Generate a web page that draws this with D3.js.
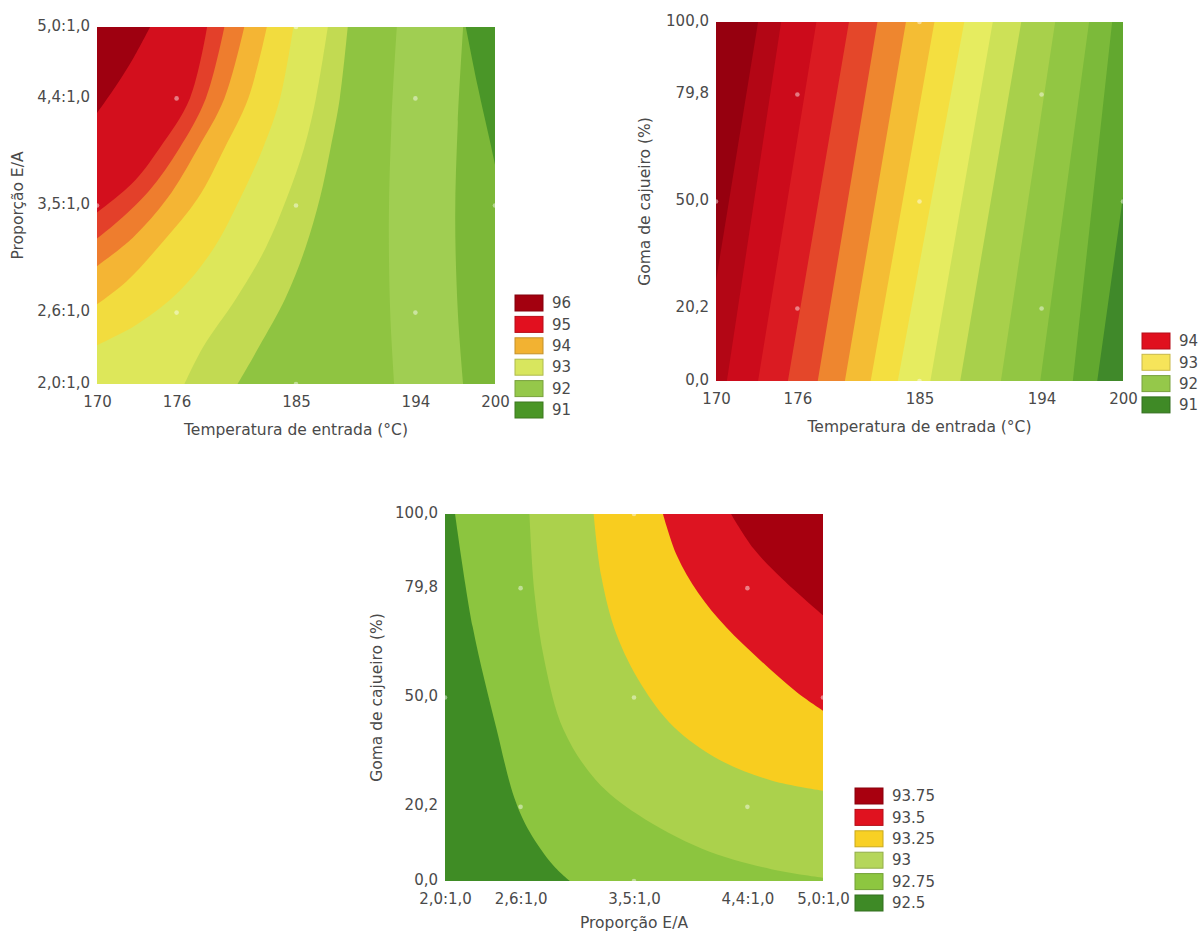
<!DOCTYPE html>
<html>
<head>
<meta charset="utf-8">
<script src="https://cdn.jsdelivr.net/npm/d3@7"></script>
<style>
  body { margin: 0; background: #fff; }
  text { font-family: "DejaVu Sans", sans-serif; fill: #4a4a4a; }
</style>
</head>
<body>
<script>
// tick values
var tempTicks = [170, 176, 185, 194, 200];
var ratioTicks = [2.0, 2.6, 3.5, 4.4, 5.0];
var gumTicks = [0, 20.2, 50, 79.8, 100];

// design points (central composite)
var ccdTemp = [176, 194, 176, 194, 170, 200, 185, 185, 185];
var ccdRatio = [2.6, 2.6, 4.4, 4.4, 3.5, 3.5, 2.0, 5.0, 3.5];
var ccdGum = [20.2, 20.2, 79.8, 79.8, 50, 50, 0, 100, 50];
var ccdRatioB = [2.6, 4.4, 2.6, 4.4, 2.0, 5.0, 3.5, 3.5, 3.5];

// plot 1: band edges, [temperature, ratio], left to right
var p1Bounds = [
  [[174.0, 5.0], [172.8, 4.75], [171.4, 4.5], [169.5, 4.2]],
  [[178.3, 5.0], [177.0, 4.4], [174.7, 3.98], [172.6, 3.68], [169.5, 3.4]],
  [[179.6, 5.0], [178.2, 4.4], [176.2, 3.98], [173.9, 3.62], [171.3, 3.34], [169.5, 3.18]],
  [[181.1, 5.0], [179.6, 4.4], [177.6, 3.98], [175.3, 3.56], [172.7, 3.23], [169.5, 2.95]],
  [[182.8, 5.0], [181.4, 4.4], [179.6, 3.98], [177.6, 3.56], [175.0, 3.2], [172.2, 2.86], [169.5, 2.63]],
  [[184.8, 5.0], [183.8, 4.4], [182.5, 3.98], [180.8, 3.56], [178.8, 3.14], [176.2, 2.78], [173.0, 2.5], [169.5, 2.3]],
  [[187.4, 5.0], [186.5, 4.4], [185.6, 3.98], [184.3, 3.56], [182.7, 3.14], [180.5, 2.72], [178.0, 2.31], [176.6, 2.0]],
  [[188.9, 5.0], [188.3, 4.4], [187.6, 3.98], [186.8, 3.56], [185.7, 3.14], [184.2, 2.72], [182.2, 2.31], [180.6, 2.0]],
  [[192.6, 5.0], [192.2, 4.2], [192.0, 3.4], [192.1, 2.6], [192.4, 2.0]],
  [[197.6, 5.0], [197.2, 4.2], [197.0, 3.4], [197.2, 2.6], [197.6, 2.0]],
  [[197.8, 5.0], [198.7, 4.5], [199.7, 4.0], [201.0, 3.3]]
];
var p1Colors = ["#9e0010", "#d30f1d", "#e3402a", "#ee7d2e", "#f4b534", "#f2dc3e",
  "#dde75a", "#c2da52", "#8fc441", "#a0ce52", "#7cb838", "#4a9628"];
var p1LegendLabels = ["96", "95", "94", "93", "92", "91"];
var p1LegendColors = ["#a3000f", "#e2101f", "#f2b232", "#d8e65e", "#95c84a", "#4a9626"];

// plot 2: straight band edges, temperature at gum 100 % and at gum 0 %
var p2EdgeTop = [173.1, 174.8, 177.4, 179.8, 181.9, 184.0, 186.1, 188.3, 190.4, 192.5, 195.0, 197.5, 199.2, 201.8];
var p2EdgeBottom = [168.8, 170.8, 173.1, 175.3, 177.5, 179.5, 181.4, 183.4, 185.8, 188.0, 191.0, 193.9, 196.3, 198.1];
var p2Colors = ["#96000f", "#b30615", "#cc0b1b", "#da1b22", "#e4472a", "#ee862f", "#f4bd34", "#f4df40",
  "#e6ec60", "#cde157", "#a8d04b", "#92c643", "#7cba3a", "#62a82f", "#40892a"];
var p2LegendLabels = ["94", "93", "92", "91"];
var p2LegendColors = ["#e0101e", "#f6e45a", "#95c84a", "#3f8a26"];

// plot 3: band edges, [ratio, gum], bottom-left to top-right
var p3Bounds = [
  [[2.08, 100], [2.22, 69.2], [2.41, 41.3], [2.55, 22.7], [2.67, 13.5], [2.86, 4.2], [2.99, 0]],
  [[2.67, 100], [2.71, 78.5], [2.79, 59.9], [2.94, 41.3], [3.20, 27.4], [3.53, 18.1], [4.04, 8.8], [4.59, 3.2], [5.0, 0.9]],
  [[3.18, 100], [3.24, 83.1], [3.36, 67.3], [3.56, 53.4], [3.81, 42.2], [4.18, 33.0], [4.59, 27.4], [5.0, 24.6]],
  [[3.73, 100], [3.84, 88.7], [4.01, 78.5], [4.23, 69.2], [4.51, 59.9], [4.79, 51.5], [5.0, 46.4]],
  [[4.27, 100], [4.45, 90.5], [4.68, 82.2], [5.0, 72.4]]
];
var p3Colors = ["#3f8c25", "#8cc53f", "#abd14c", "#f8cd1f", "#dd1421", "#a6000f"];
var p3LegendLabels = ["93.75", "93.5", "93.25", "93", "92.75", "92.5"];
var p3LegendColors = ["#a8000f", "#e0121f", "#f8d024", "#b5d65a", "#8dc640", "#3e8a26"];

var svg = d3.select("body").append("svg").attr("width", 1202).attr("height", 935);

function comma(d) { return d3.format(".1f")(d).replace(".", ","); }
function ratioFmt(d) { return comma(d) + ":1,0"; }

// polygon on one side of a band edge, closed outside the plot (clipped later)
function bandPath(pts, side, x, y) {
  var p = pts.map(function (d) { return [x(d[0]), y(d[1])]; });
  var first = p[0], last = p[p.length - 1];
  var xa = x.range()[0], xb = x.range()[1], yb = y.range()[0], ya = y.range()[1];
  var corners;
  if (side == "left") {
    corners = [[last[0], yb + 20], [xa - 20, yb + 20], [xa - 20, ya - 20], [first[0], ya - 20]];
  } else {
    corners = [[xb + 20, last[1]], [xb + 20, ya - 20], [first[0], ya - 20]];
  }
  var line = d3.line().curve(d3.curveCatmullRom.alpha(0.5));
  return line(p) + corners.map(function (c) { return "L" + c[0] + "," + c[1]; }).join("") + "Z";
}

function panel(o) {
  var g = svg.append("g");
  var x = d3.scaleLinear().domain(o.xDomain).range(o.xRange);
  var y = d3.scaleLinear().domain(o.yDomain).range(o.yRange);

  svg.append("clipPath").attr("id", "clip" + o.id).append("rect")
    .attr("x", o.xRange[0]).attr("y", o.yRange[1])
    .attr("width", o.xRange[1] - o.xRange[0])
    .attr("height", o.yRange[0] - o.yRange[1]);

  var area = g.append("g").attr("clip-path", "url(#clip" + o.id + ")");
  var n = o.bounds.length;
  area.append("rect")
    .attr("x", o.xRange[0]).attr("y", o.yRange[1])
    .attr("width", o.xRange[1] - o.xRange[0])
    .attr("height", o.yRange[0] - o.yRange[1])
    .attr("fill", o.side == "left" ? o.colors[n] : o.colors[0]);

  var order = d3.range(n);
  if (o.side == "left") order.reverse();
  order.forEach(function (i) {
    area.append("path")
      .attr("d", bandPath(o.bounds[i], o.side, x, y))
      .attr("fill", o.side == "left" ? o.colors[i] : o.colors[i + 1]);
  });

  // design points
  area.selectAll("circle").data(o.px).enter().append("circle")
    .attr("cx", function (d) { return x(d); })
    .attr("cy", function (d, i) { return y(o.py[i]); })
    .attr("r", 2.3)
    .attr("fill", "#fff")
    .attr("opacity", 0.45);

  // axes
  g.append("g")
    .attr("transform", "translate(0," + o.yRange[0] + ")")
    .call(d3.axisBottom(x).tickValues(o.xTicks).tickFormat(o.xFmt).tickSize(0).tickPadding(12))
    .attr("font-size", 15).attr("font-family", null).attr("color", "#4a4a4a")
    .call(function (s) { s.select(".domain").remove(); });

  g.append("g")
    .attr("transform", "translate(" + o.xRange[0] + ",0)")
    .call(d3.axisLeft(y).tickValues(o.yTicks).tickFormat(o.yFmt).tickSize(0).tickPadding(7))
    .attr("font-size", 15).attr("font-family", null).attr("color", "#4a4a4a")
    .call(function (s) { s.select(".domain").remove(); })
    .selectAll("text").attr("dy", "0.2em");

  g.append("text")
    .attr("x", (o.xRange[0] + o.xRange[1]) / 2)
    .attr("y", o.yRange[0] + o.xTitleGap)
    .attr("text-anchor", "middle")
    .attr("font-size", 15.5)
    .text(o.xTitle);

  g.append("text")
    .attr("transform", "translate(" + o.yTitleX + "," + (o.yRange[0] + o.yRange[1]) / 2 + ") rotate(-90)")
    .attr("text-anchor", "middle")
    .attr("dy", "0.35em")
    .attr("font-size", 15.5)
    .text(o.yTitle);

  // legend
  var lg = g.append("g");
  lg.selectAll("rect").data(o.legLabels).enter().append("rect")
    .attr("x", o.legX)
    .attr("y", function (d, i) { return o.legY + i * o.legStep; })
    .attr("width", 28)
    .attr("height", 16)
    .attr("fill", function (d, i) { return o.legColors[i]; })
    .attr("stroke", function (d, i) { return d3.color(o.legColors[i]).darker(0.6); })
    .attr("stroke-width", 1);
  lg.selectAll("text").data(o.legLabels).enter().append("text")
    .attr("x", o.legX + 37)
    .attr("y", function (d, i) { return o.legY + i * o.legStep + 8; })
    .attr("dy", "0.35em")
    .attr("font-size", 15)
    .text(function (d) { return d; });
}

panel({
  id: 1, side: "left",
  xDomain: [170, 200], xRange: [97, 495],
  yDomain: [2, 5], yRange: [384, 27],
  bounds: p1Bounds, colors: p1Colors,
  px: ccdTemp, py: ccdRatio,
  xTicks: tempTicks, xFmt: d3.format("d"),
  yTicks: ratioTicks, yFmt: ratioFmt,
  xTitle: "Temperatura de entrada (°C)", xTitleGap: 51, yTitle: "Proporção E/A", yTitleX: 18,
  legLabels: p1LegendLabels, legColors: p1LegendColors, legX: 515, legY: 295, legStep: 21.4
});

panel({
  id: 2, side: "left",
  xDomain: [170, 200], xRange: [716, 1123],
  yDomain: [0, 100], yRange: [381, 22],
  bounds: p2EdgeTop.map(function (t, i) { return [[t, 100], [p2EdgeBottom[i], 0]]; }),
  colors: p2Colors,
  px: ccdTemp, py: ccdGum,
  xTicks: tempTicks, xFmt: d3.format("d"),
  yTicks: gumTicks, yFmt: comma,
  xTitle: "Temperatura de entrada (°C)", xTitleGap: 51, yTitle: "Goma de cajueiro (%)", yTitleX: 645,
  legLabels: p2LegendLabels, legColors: p2LegendColors, legX: 1142, legY: 333, legStep: 21.3
});

panel({
  id: 3, side: "right",
  xDomain: [2, 5], xRange: [445, 823],
  yDomain: [0, 100], yRange: [881, 514],
  bounds: p3Bounds, colors: p3Colors,
  px: ccdRatioB, py: ccdGum,
  xTicks: ratioTicks, xFmt: ratioFmt,
  yTicks: gumTicks, yFmt: comma,
  xTitle: "Proporção E/A", xTitleGap: 47, yTitle: "Goma de cajueiro (%)", yTitleX: 377,
  legLabels: p3LegendLabels, legColors: p3LegendColors, legX: 855, legY: 788, legStep: 21.4
});
</script>
</body>
</html>
